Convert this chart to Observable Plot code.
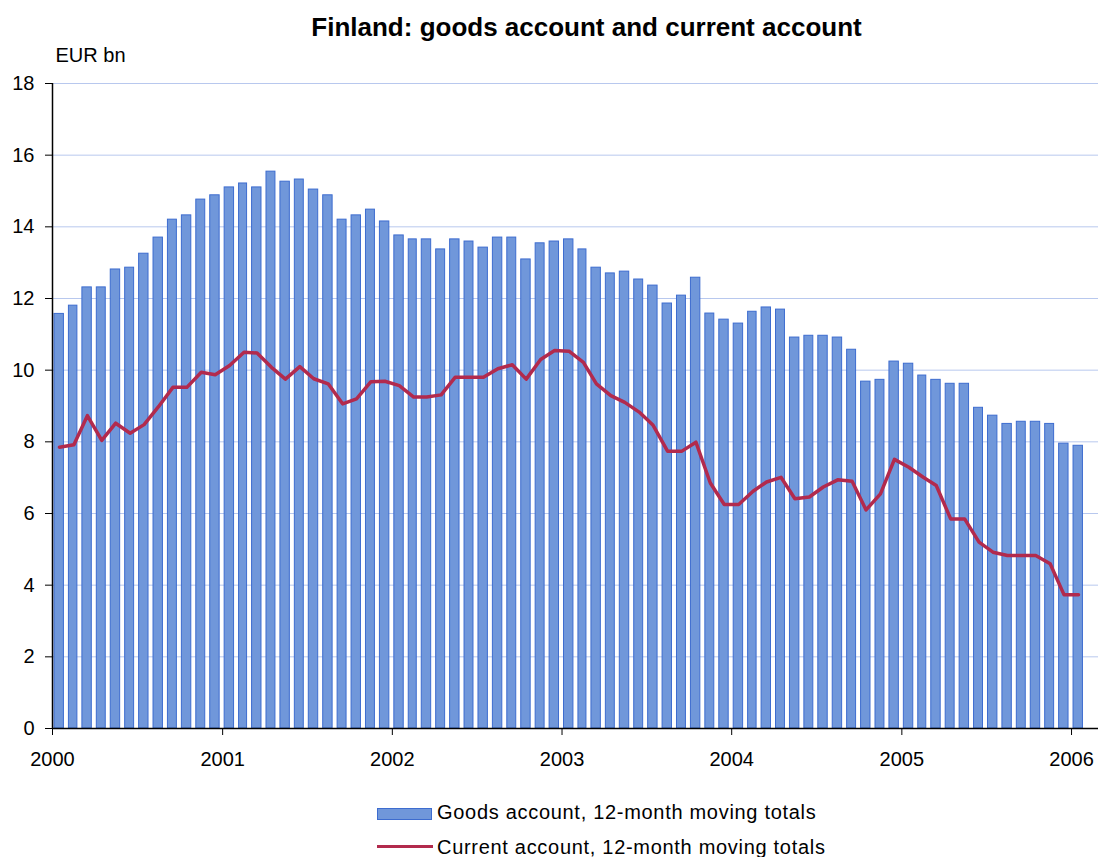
<!DOCTYPE html>
<html>
<head>
<meta charset="utf-8">
<script src="https://cdn.jsdelivr.net/npm/d3@7"></script>
<script src="https://cdn.jsdelivr.net/npm/@observablehq/plot@0.6"></script>
<style>
  html, body { margin: 0; padding: 0; background: #fff; overflow: hidden; }
  #wrap { position: relative; width: 1101px; height: 857px; font-family: "Liberation Sans", Arial, sans-serif; color: #000; }
  #title { position: absolute; left: 0; width: 1101px; top: 12px; text-align: center; padding-left: 72px; box-sizing: border-box;
           font-size: 26px; line-height: 30px; font-weight: bold; z-index: 2; }
  #chart { position: absolute; left: 0; top: 40px; z-index: 1; }
  .leg { position: absolute; left: 377px; font-size: 20px; line-height: 24px; letter-spacing: 0.7px; white-space: nowrap; }
  .leg .sw { position: absolute; }
  .leg span.t { position: absolute; left: 60px; top: 0; }
</style>
</head>
<body>
<div id="wrap">
  <div id="title">Finland: goods account and current account</div>
  <div id="chart"></div>
  <div class="leg" id="leg1" style="top:800px;">
    <div class="sw" style="left:0; top:8px; width:53px; height:10px; background:#7097da; border:1px solid #3d6ccf;"></div>
    <span class="t">Goods account, 12-month moving totals</span>
  </div>
  <div class="leg" id="leg2" style="top:835px;">
    <div class="sw" style="left:0; top:10px; width:56px; height:3px; background:#b22a4d;"></div>
    <span class="t">Current account, 12-month moving totals</span>
  </div>
</div>
<script>
// Year tick labels
const years = ["2000", "2001", "2002", "2003", "2004", "2005", "2006"];

// Goods account, 12-month moving totals (EUR bn), Jan 2000 .. Jan 2006
const goods = [
  11.57, 11.80, 12.31, 12.31, 12.81, 12.86, 13.25, 13.70, 14.20, 14.32, 14.76, 14.88,
  15.10, 15.21, 15.10, 15.54, 15.26, 15.32, 15.04, 14.88, 14.20, 14.32, 14.48, 14.15,
  13.76, 13.65, 13.65, 13.37, 13.65, 13.59, 13.42, 13.70, 13.70, 13.09, 13.54, 13.59,
  13.65, 13.37, 12.86, 12.70, 12.75, 12.53, 12.36, 11.86, 12.08, 12.58, 11.58, 11.41,
  11.30, 11.63, 11.75, 11.69, 10.91, 10.96, 10.96, 10.91, 10.57, 9.68, 9.73, 10.24,
  10.18, 9.85, 9.73, 9.62, 9.62, 8.95, 8.73, 8.50, 8.56, 8.56, 8.50, 7.95,
  7.89
];

// Current account, 12-month moving totals (EUR bn)
const current = [
  7.85, 7.92, 8.73, 8.04, 8.52, 8.24, 8.48, 8.98, 9.52, 9.52, 9.94, 9.87,
  10.13, 10.50, 10.48, 10.08, 9.75, 10.10, 9.76, 9.62, 9.06, 9.20, 9.68, 9.69,
  9.57, 9.25, 9.25, 9.31, 9.80, 9.80, 9.80, 10.04, 10.15, 9.75, 10.30, 10.55,
  10.53, 10.22, 9.62, 9.29, 9.10, 8.83, 8.46, 7.74, 7.74, 7.99, 6.85, 6.25,
  6.25, 6.62, 6.88, 7.01, 6.41, 6.46, 6.74, 6.94, 6.90, 6.10, 6.55, 7.51,
  7.29, 7.01, 6.78, 5.85, 5.85, 5.20, 4.92, 4.83, 4.83, 4.83, 4.60, 3.73,
  3.73
];

// Y ticks
const yTicks = [0, 2, 4, 6, 8, 10, 12, 14, 16, 18];

const start = new Date(Date.UTC(2000, 0, 1));
const data = goods.map((g, i) => {
  const d = d3.utcMonth.offset(start, i);
  return { date: d, next: d3.utcMonth.offset(d, 1), mid: d3.utcDay.offset(d, 15), goods: g, current: current[i] };
});
const yearDates = years.map(y => new Date(Date.UTC(+y, 0, 1)));

const chart = Plot.plot({
  width: 1101,
  height: 740,
  marginLeft: 52,
  marginRight: 3,
  marginTop: 43,
  marginBottom: 52,
  x: { type: "utc", domain: [start, new Date(Date.UTC(2006, 1, 28))] },
  y: { domain: [0, 18] },
  style: { fontFamily: "'Liberation Sans', Arial, sans-serif", fontSize: "20px", color: "#000", background: "transparent", overflow: "visible" },
  marks: [
    Plot.ruleY(yTicks.filter(d => d > 0), { stroke: "#b8c8ee", strokeWidth: 1 }),
    Plot.rectY(data, { x1: "date", x2: "next", y1: 0, y2: "goods", fill: "#7097da", stroke: "#3d6ccf", strokeWidth: 1, insetLeft: 2, insetRight: 3 }),
    Plot.line(data, { x: "mid", y: "current", stroke: "#b22a4d", strokeWidth: 3.5 }),
    Plot.ruleY([0], { stroke: "#000", strokeWidth: 1.5 }),
    Plot.ruleX([start], { y1: 0, y2: 18, stroke: "#000", strokeWidth: 1.5 }),
    Plot.axisY({ ticks: yTicks, tickSize: 7, tickPadding: 11, label: null, tickFormat: d => String(d) }),
    Plot.axisX({ ticks: yearDates, tickSize: 7, tickPadding: 16, label: null, tickFormat: d => years[yearDates.findIndex(t => +t === +d)] }),
    Plot.text(["EUR bn"], { frameAnchor: "top-left", textAnchor: "start", dx: 3, dy: -36, fontSize: 20 })
  ]
});
document.getElementById("chart").appendChild(chart);
</script>
</body>
</html>
